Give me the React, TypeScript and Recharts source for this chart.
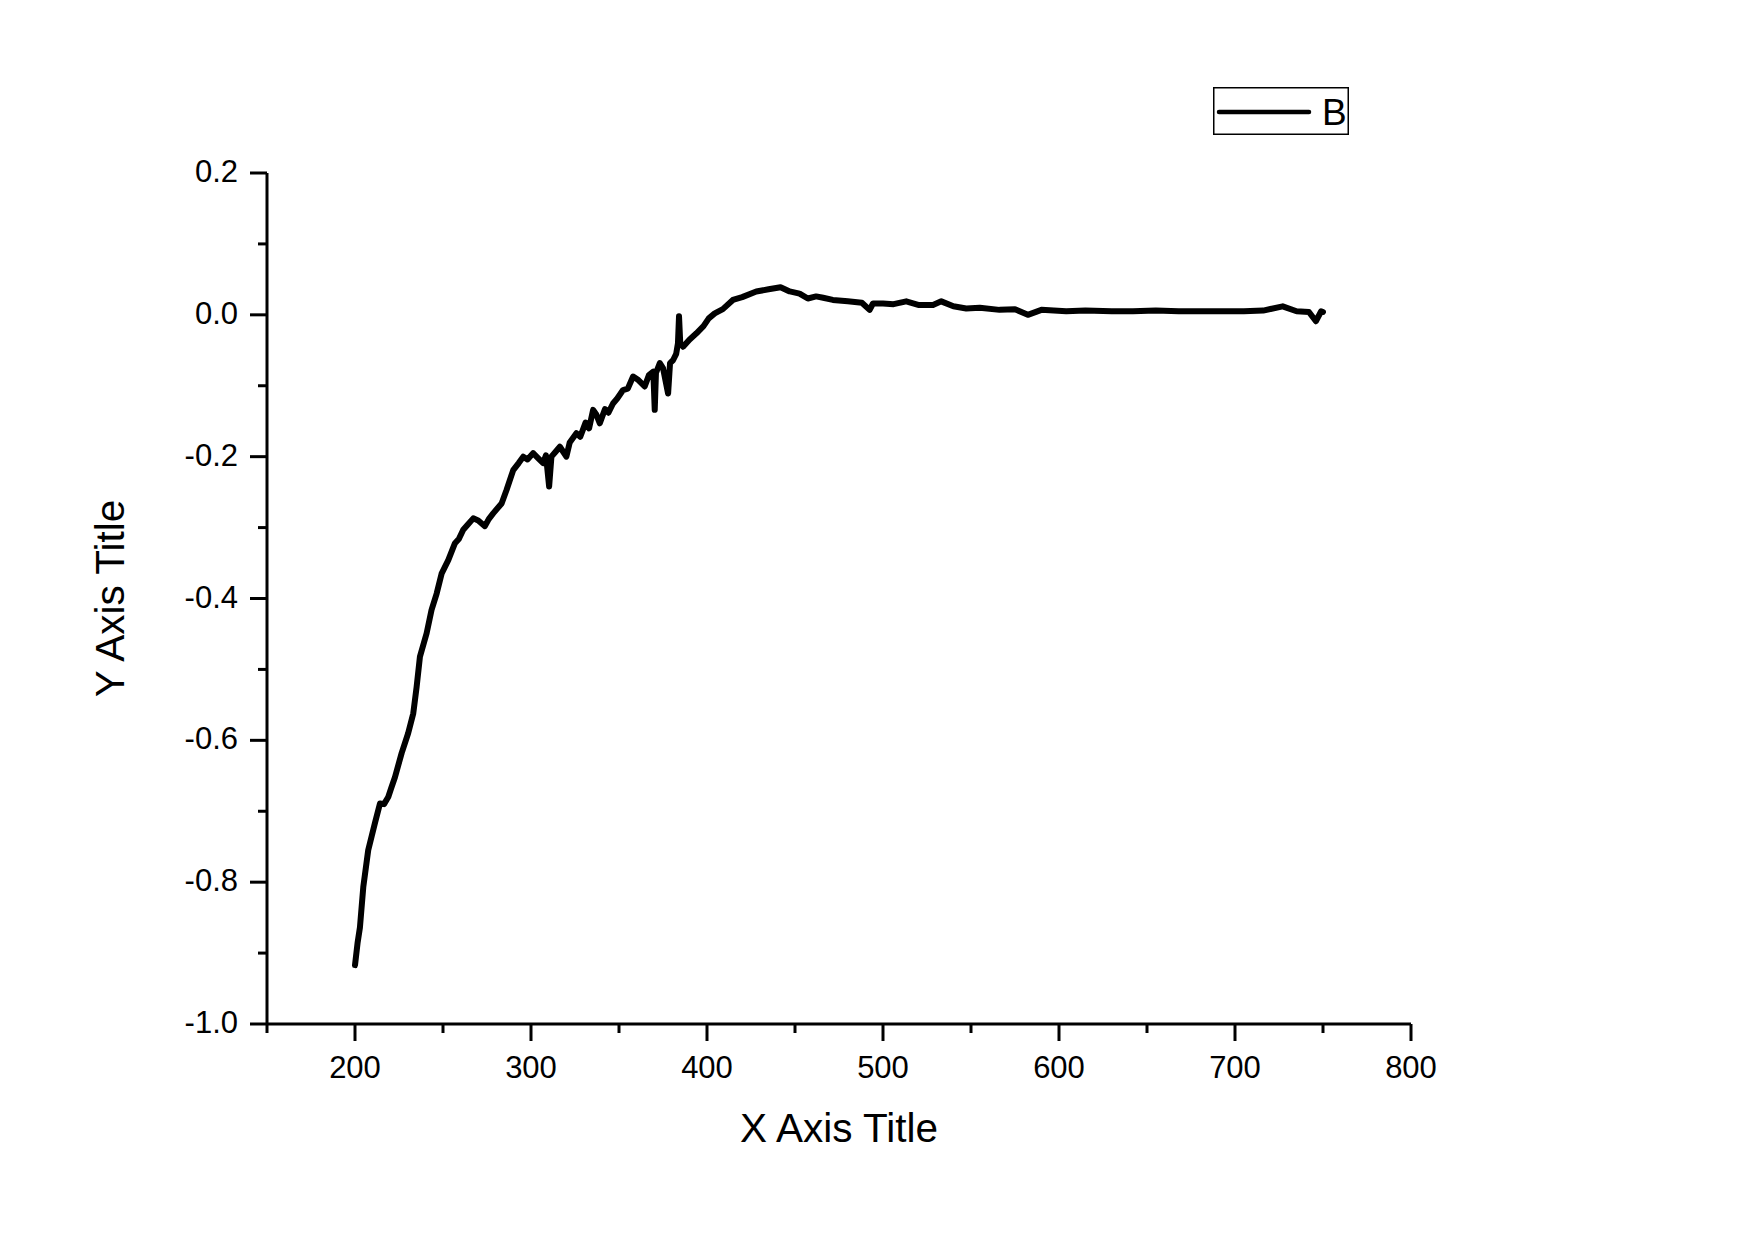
import React from 'react'
import { LineChart, Line, XAxis, YAxis, Legend } from 'recharts'

// wavelength (x) and signal (y)
const xs = [
  200, 201.5, 202.8, 204.7, 207.5, 209.5, 211.3, 214.2, 216.5, 218.9, 220.5, 222.7, 226.5, 230.2, 233.1, 235,
  236.9, 240.7, 243.5, 246.4, 249.2, 253, 256.8, 259, 261.5, 264, 267.2, 270, 273.8, 276, 278.5, 283.3,
  286.1, 289.9, 293, 295.6, 298, 301.2, 304, 306.9, 308.5, 310.3, 311.6, 314, 316.4, 318, 320.1, 322,
  325.8, 328, 331, 333, 335.3, 337, 339.1, 342, 344, 346.6, 349, 352.3, 355, 358, 361, 364.6,
  367, 369.5, 370.3, 371, 373.2, 375, 377.9, 379, 380.7, 382.5, 383.5, 384.1, 384.8, 386.4, 390, 394,
  398, 401, 404.4, 409, 414.7, 420, 428, 435, 441.8, 447, 452.6, 457.3, 462, 466, 471.5, 480,
  488, 492.4, 494.3, 500, 506, 513.2, 520, 528.4, 533.1, 540, 547.3, 555, 566.2, 575, 582.3, 590,
  604.1, 615, 630, 642, 655, 668, 679.8, 690, 705, 716, 727.1, 735, 742, 746, 748.9, 750,
]
const ys = [
  -0.917, -0.885, -0.864, -0.807, -0.755, -0.735, -0.717, -0.689, -0.69, -0.68, -0.668, -0.652, -0.618, -0.59, -0.562, -0.525,
  -0.482, -0.449, -0.416, -0.393, -0.365, -0.346, -0.322, -0.316, -0.303, -0.296, -0.287, -0.29, -0.298, -0.288, -0.28, -0.266,
  -0.247, -0.219, -0.209, -0.2, -0.204, -0.195, -0.202, -0.209, -0.198, -0.242, -0.2, -0.193, -0.186, -0.192, -0.2, -0.18,
  -0.167, -0.172, -0.152, -0.16, -0.134, -0.14, -0.153, -0.133, -0.138, -0.125, -0.118, -0.106, -0.104, -0.087, -0.092, -0.101,
  -0.085, -0.08, -0.134, -0.082, -0.068, -0.075, -0.111, -0.068, -0.064, -0.055, -0.04, -0.002, -0.04, -0.045, -0.035, -0.026,
  -0.016, -0.005, 0.002, 0.008, 0.021, 0.025, 0.033, 0.036, 0.039, 0.033, 0.03, 0.023, 0.026, 0.024, 0.021, 0.019,
  0.017, 0.007, 0.016, 0.016, 0.015, 0.019, 0.014, 0.014, 0.019, 0.012, 0.009, 0.01, 0.007, 0.008, 0.0, 0.007,
  0.005, 0.006, 0.005, 0.005, 0.006, 0.005, 0.005, 0.005, 0.005, 0.006, 0.012, 0.005, 0.004, -0.009, 0.005, 0.004,
]

const xTicks = [150, 200, 250, 300, 350, 400, 450, 500, 550, 600, 650, 700, 750, 800]
const xMajor = [200, 300, 400, 500, 600, 700, 800]
const yTicks = [-1.0, -0.9, -0.8, -0.7, -0.6, -0.5, -0.4, -0.3, -0.2, -0.1, 0.0, 0.1, 0.2]
const yMajor = [-1.0, -0.8, -0.6, -0.4, -0.2, 0.0, 0.2]

const data = xs.map((x, i) => ({ x, y: ys[i] }))

const FONT = '"Liberation Sans", Arial, sans-serif'

function XTick(props: any) {
  const { x, y, payload } = props
  const major = xMajor.includes(payload.value)
  return (
    <g>
      <line x1={x} x2={x} y1={y} y2={y + (major ? 17 : 9)} stroke="#000" strokeWidth={3} />
      {major && (
        <text x={x} y={y + 54} textAnchor="middle" fontFamily={FONT} fontSize={31} fill="#000">
          {payload.value}
        </text>
      )}
    </g>
  )
}

function YTick(props: any) {
  const { x, y, payload } = props
  const major = yMajor.some((v) => Math.abs(v - payload.value) < 1e-9)
  return (
    <g>
      <line x1={x - (major ? 17 : 9)} x2={x} y1={y} y2={y} stroke="#000" strokeWidth={3} />
      {major && (
        <text x={x - 29} y={y + 9} textAnchor="end" fontFamily={FONT} fontSize={31} fill="#000">
          {payload.value.toFixed(1)}
        </text>
      )}
    </g>
  )
}

function XTitle(props: any) {
  const { viewBox } = props
  const cx = viewBox.x + viewBox.width / 2
  return (
    <text x={cx} y={1142} textAnchor="middle" fontFamily={FONT} fontSize={40.5} fill="#000">
      X Axis Title
    </text>
  )
}

function YTitle(props: any) {
  const { viewBox } = props
  const cy = viewBox.y + viewBox.height / 2
  return (
    <text x={124} y={cy} transform={`rotate(-90 124 ${cy})`} textAnchor="middle" fontFamily={FONT} fontSize={40.5} fill="#000">
      Y Axis Title
    </text>
  )
}

function LegendBox(props: any) {
  const name = props.payload && props.payload[0] ? props.payload[0].value : 'B'
  return (
    <svg width={136} height={48} style={{ display: 'block' }}>
      <rect x={0.75} y={0.75} width={134.5} height={46.5} fill="#fff" stroke="#000" strokeWidth={1.5} />
      <line x1={6} x2={96} y1={25} y2={25} stroke="#000" strokeWidth={4.5} strokeLinecap="round" />
      <text x={109} y={38} fontFamily={FONT} fontSize={37} fill="#000">
        {name}
      </text>
    </svg>
  )
}

export default function App() {
  return (
    <div style={{ position: 'absolute', left: 0, top: 0, width: 1753, height: 1239, background: '#fff' }}>
      <LineChart width={1753} height={1239} data={data} margin={{ top: 173, right: 342, bottom: 155, left: 187 }}>
        <XAxis
          dataKey="x"
          type="number"
          domain={[150, 800]}
          ticks={xTicks}
          interval={0}
          height={60}
          tickSize={0}
          tickMargin={0}
          tickLine={false}
          tick={<XTick />}
          axisLine={{ stroke: '#000', strokeWidth: 3 }}
          allowDataOverflow
          label={<XTitle />}
        />
        <YAxis
          type="number"
          domain={[-1.0, 0.2]}
          ticks={yTicks}
          interval={0}
          width={80}
          tickSize={0}
          tickMargin={0}
          tickLine={false}
          tick={<YTick />}
          axisLine={{ stroke: '#000', strokeWidth: 3 }}
          allowDataOverflow
          label={<YTitle />}
        />
        <Legend
          layout="horizontal"
          verticalAlign="middle"
          align="center"
          content={<LegendBox />}
          wrapperStyle={{ left: 1213, top: 87, width: 136, height: 48 }}
        />
        <Line
          type="linear"
          dataKey="y"
          name="B"
          stroke="#000"
          strokeWidth={6}
          strokeLinejoin="round"
          strokeLinecap="round"
          dot={false}
          isAnimationActive={false}
        />
      </LineChart>
    </div>
  )
}
